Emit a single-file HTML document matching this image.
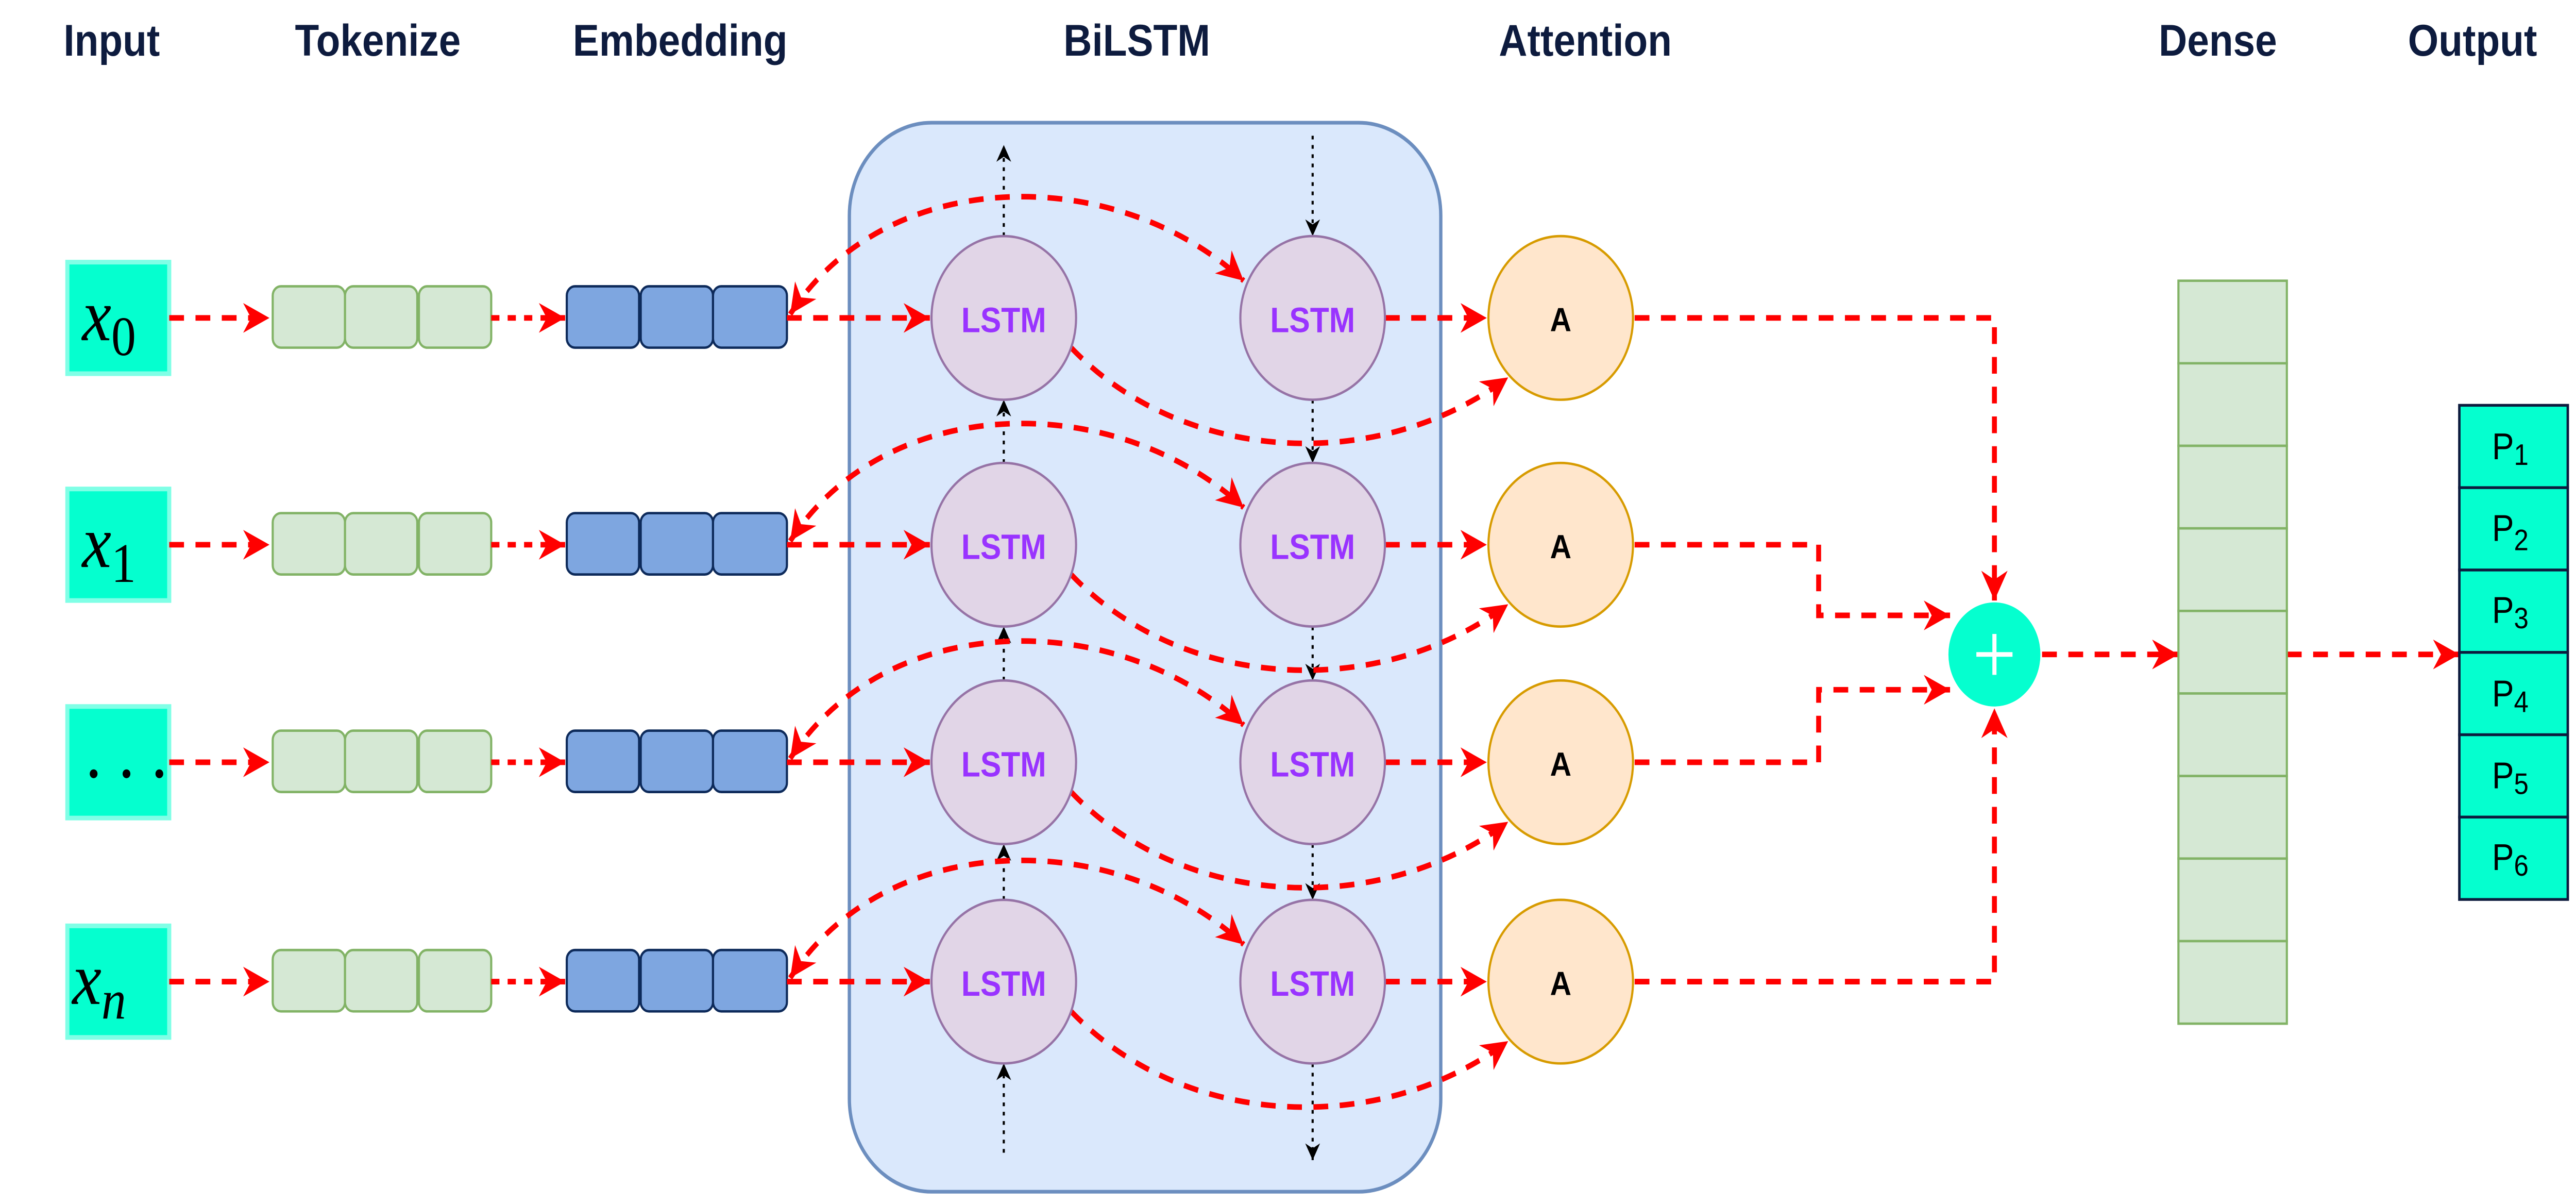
<!DOCTYPE html>
<html><head><meta charset="utf-8"><style>
html,body{margin:0;padding:0;background:#fff;overflow:hidden;width:100%;height:100%;}
svg{display:block;position:fixed;left:0;top:0;width:100vw;height:100vh;}
.t{font-family:"Liberation Sans",sans-serif;font-weight:bold;font-size:24px;fill:#0d1b3e;text-anchor:middle;}
.l{font-family:"Liberation Sans",sans-serif;font-weight:bold;font-size:19px;fill:#9933ff;text-anchor:middle;dominant-baseline:central;}
.a{font-family:"Liberation Sans",sans-serif;font-weight:bold;font-size:18px;fill:#000;text-anchor:middle;dominant-baseline:central;}
.m{font-family:"Liberation Serif",serif;font-size:40px;fill:#000;}
.p{font-family:"Liberation Sans",sans-serif;font-size:20px;fill:#000;text-anchor:middle;}
.r{stroke:#ff0000;stroke-width:3;fill:none;stroke-dasharray:9 7;}
.rs{stroke:#ff0000;stroke-width:3;fill:none;stroke-dasharray:5 5;}
.k{stroke:#000;stroke-width:1.3;fill:none;stroke-dasharray:2 3;}
</style></head><body>
<svg viewBox="0 0 1568 647.6" preserveAspectRatio="none" xmlns="http://www.w3.org/2000/svg">
<defs>
<marker id="ar" markerUnits="userSpaceOnUse" markerWidth="16" markerHeight="16" viewBox="0 0 10 10" refX="10" refY="5" orient="auto"><path d="M0,0 L10,5 L0,10 L3,5 z" fill="#ff0000"/></marker>
<marker id="as" markerUnits="userSpaceOnUse" markerWidth="16" markerHeight="16" viewBox="0 0 10 10" refX="0" refY="5" orient="auto"><path d="M10,0 L0,5 L10,10 L7,5 z" fill="#ff0000"/></marker>
<marker id="ak" markerUnits="userSpaceOnUse" markerWidth="9" markerHeight="9" viewBox="0 0 10 10" refX="10" refY="5" orient="auto"><path d="M0,0 L10,5 L0,10 L3,5 z" fill="#000"/></marker>
</defs>

<text class="t" x="68" y="30">Input</text>
<text class="t" x="230" y="30">Tokenize</text>
<text class="t" x="414" y="30">Embedding</text>
<text class="t" x="692" y="30">BiLSTM</text>
<text class="t" x="965" y="30">Attention</text>
<text class="t" x="1350" y="30">Dense</text>
<text class="t" x="1505" y="30">Output</text>

<rect x="517" y="66" width="360" height="575" rx="50" fill="#dae8fc" stroke="#6c8ebf" stroke-width="2"/>

<g fill="#05ffcf" stroke="#80ffe6" stroke-width="2.5">
<rect x="41" y="141" width="62" height="60"/>
<rect x="41" y="263" width="62" height="60"/>
<rect x="41" y="380" width="62" height="60"/>
<rect x="41" y="498" width="62" height="60"/>
</g>
<text class="m" x="50" y="183" font-style="italic">x<tspan font-style="normal" font-size="30" dy="8">0</tspan></text>
<text class="m" x="50" y="305" font-style="italic">x<tspan font-style="normal" font-size="30" dy="8">1</tspan></text>
<text class="m" x="52" y="418" font-size="34">. . .</text>
<text class="m" x="44" y="540" font-style="italic">x<tspan font-size="30" dy="8">n</tspan></text>

<g fill="#d5e8d4" stroke="#82b366" stroke-width="1.3">
<rect x="166" y="154" width="44" height="33" rx="5"/><rect x="210" y="154" width="44" height="33" rx="5"/><rect x="255" y="154" width="44" height="33" rx="5"/>
<rect x="166" y="276" width="44" height="33" rx="5"/><rect x="210" y="276" width="44" height="33" rx="5"/><rect x="255" y="276" width="44" height="33" rx="5"/>
<rect x="166" y="393" width="44" height="33" rx="5"/><rect x="210" y="393" width="44" height="33" rx="5"/><rect x="255" y="393" width="44" height="33" rx="5"/>
<rect x="166" y="511" width="44" height="33" rx="5"/><rect x="210" y="511" width="44" height="33" rx="5"/><rect x="255" y="511" width="44" height="33" rx="5"/>
</g>
<g fill="#7ea6e0" stroke="#0d2a5a" stroke-width="1.3">
<rect x="345" y="154" width="44" height="33" rx="5"/><rect x="390" y="154" width="44" height="33" rx="5"/><rect x="434" y="154" width="45" height="33" rx="5"/>
<rect x="345" y="276" width="44" height="33" rx="5"/><rect x="390" y="276" width="44" height="33" rx="5"/><rect x="434" y="276" width="45" height="33" rx="5"/>
<rect x="345" y="393" width="44" height="33" rx="5"/><rect x="390" y="393" width="44" height="33" rx="5"/><rect x="434" y="393" width="45" height="33" rx="5"/>
<rect x="345" y="511" width="44" height="33" rx="5"/><rect x="390" y="511" width="44" height="33" rx="5"/><rect x="434" y="511" width="45" height="33" rx="5"/>
</g>

<g class="k" marker-end="url(#ak)">
<path d="M611,127 V78"/><path d="M611,249 V215"/><path d="M611,366 V337"/><path d="M611,484 V454"/><path d="M611,620 V572"/>
<path d="M799,73 V127"/><path d="M799,215 V249"/><path d="M799,337 V366"/><path d="M799,454 V484"/><path d="M799,572 V624"/>
</g>

<g class="r">
<path d="M103,171 H164" marker-end="url(#ar)"/>
<path d="M103,293 H164" marker-end="url(#ar)"/>
<path d="M103,410 H164" marker-end="url(#ar)"/>
<path d="M103,528 H164" marker-end="url(#ar)"/>
<path d="M479,171 H566" marker-end="url(#ar)"/>
<path d="M479,293 H566" marker-end="url(#ar)"/>
<path d="M479,410 H566" marker-end="url(#ar)"/>
<path d="M479,528 H566" marker-end="url(#ar)"/>
<path d="M481,169 C540,88 680,88 757,151" marker-start="url(#as)" marker-end="url(#ar)"/>
<path d="M481,291 C540,210 680,210 757,273" marker-start="url(#as)" marker-end="url(#ar)"/>
<path d="M481,408 C540,327 680,327 757,390" marker-start="url(#as)" marker-end="url(#ar)"/>
<path d="M481,526 C540,445 680,445 757,508" marker-start="url(#as)" marker-end="url(#ar)"/>
<path d="M652,187 C720,250 840,255 918,203" marker-end="url(#ar)"/>
<path d="M652,309 C720,372 840,377 918,325" marker-end="url(#ar)"/>
<path d="M652,426 C720,489 840,494 918,442" marker-end="url(#ar)"/>
<path d="M652,544 C720,607 840,612 918,560" marker-end="url(#ar)"/>
<path d="M843,171 H905" marker-end="url(#ar)"/>
<path d="M843,293 H905" marker-end="url(#ar)"/>
<path d="M843,410 H905" marker-end="url(#ar)"/>
<path d="M843,528 H905" marker-end="url(#ar)"/>
<path d="M995,171 H1214 V323" marker-end="url(#ar)"/>
<path d="M995,293 H1107 V331 H1187" marker-end="url(#ar)"/>
<path d="M995,410 H1107 V371 H1187" marker-end="url(#ar)"/>
<path d="M995,528 H1214 V381" marker-end="url(#ar)"/>
<path d="M1243,352 H1326" marker-end="url(#ar)"/>
<path d="M1392,352 H1497" marker-end="url(#ar)"/>
</g>
<g class="rs">
<path d="M299,171 H344" marker-end="url(#ar)"/>
<path d="M299,293 H344" marker-end="url(#ar)"/>
<path d="M299,410 H344" marker-end="url(#ar)"/>
<path d="M299,528 H344" marker-end="url(#ar)"/>
</g>

<g fill="#e1d5e7" stroke="#9673a6" stroke-width="1.3">
<circle cx="611" cy="171" r="44"/><circle cx="799" cy="171" r="44"/>
<circle cx="611" cy="293" r="44"/><circle cx="799" cy="293" r="44"/>
<circle cx="611" cy="410" r="44"/><circle cx="799" cy="410" r="44"/>
<circle cx="611" cy="528" r="44"/><circle cx="799" cy="528" r="44"/>
</g>
<text class="l" x="611" y="172">LSTM</text><text class="l" x="799" y="172">LSTM</text>
<text class="l" x="611" y="294">LSTM</text><text class="l" x="799" y="294">LSTM</text>
<text class="l" x="611" y="411">LSTM</text><text class="l" x="799" y="411">LSTM</text>
<text class="l" x="611" y="529">LSTM</text><text class="l" x="799" y="529">LSTM</text>

<g fill="#ffe6cc" stroke="#d79b00" stroke-width="1.3">
<circle cx="950" cy="171" r="44"/><circle cx="950" cy="293" r="44"/><circle cx="950" cy="410" r="44"/><circle cx="950" cy="528" r="44"/>
</g>
<text class="a" x="950" y="172">A</text><text class="a" x="950" y="294">A</text><text class="a" x="950" y="411">A</text><text class="a" x="950" y="529">A</text>

<circle cx="1214" cy="352" r="28" fill="#05ffcf"/>
<path d="M1203,352 H1225 M1214,341 V363" stroke="#fff" stroke-width="2.5"/>

<g fill="#d5e8d4" stroke="#82b366" stroke-width="1.3">
<rect x="1326" y="151" width="66" height="44.4"/><rect x="1326" y="195.4" width="66" height="44.4"/><rect x="1326" y="239.8" width="66" height="44.4"/>
<rect x="1326" y="284.2" width="66" height="44.4"/><rect x="1326" y="328.6" width="66" height="44.4"/><rect x="1326" y="373" width="66" height="44.4"/>
<rect x="1326" y="417.4" width="66" height="44.4"/><rect x="1326" y="461.8" width="66" height="44.4"/><rect x="1326" y="506.2" width="66" height="44.4"/>
</g>

<g fill="#05ffcf" stroke="#0d1b3e" stroke-width="1.5">
<rect x="1497" y="218" width="66" height="44.3"/><rect x="1497" y="262.3" width="66" height="44.3"/><rect x="1497" y="306.6" width="66" height="44.3"/>
<rect x="1497" y="350.9" width="66" height="44.3"/><rect x="1497" y="395.2" width="66" height="44.3"/><rect x="1497" y="439.5" width="66" height="44.3"/>
</g>
<text class="p" x="1528" y="247">P<tspan font-size="16" dy="3">1</tspan></text>
<text class="p" x="1528" y="291">P<tspan font-size="16" dy="5">2</tspan></text>
<text class="p" x="1528" y="335">P<tspan font-size="16" dy="3">3</tspan></text>
<text class="p" x="1528" y="380">P<tspan font-size="16" dy="3">4</tspan></text>
<text class="p" x="1528" y="424">P<tspan font-size="16" dy="3">5</tspan></text>
<text class="p" x="1528" y="468">P<tspan font-size="16" dy="3">6</tspan></text>
</svg>
</body></html>
